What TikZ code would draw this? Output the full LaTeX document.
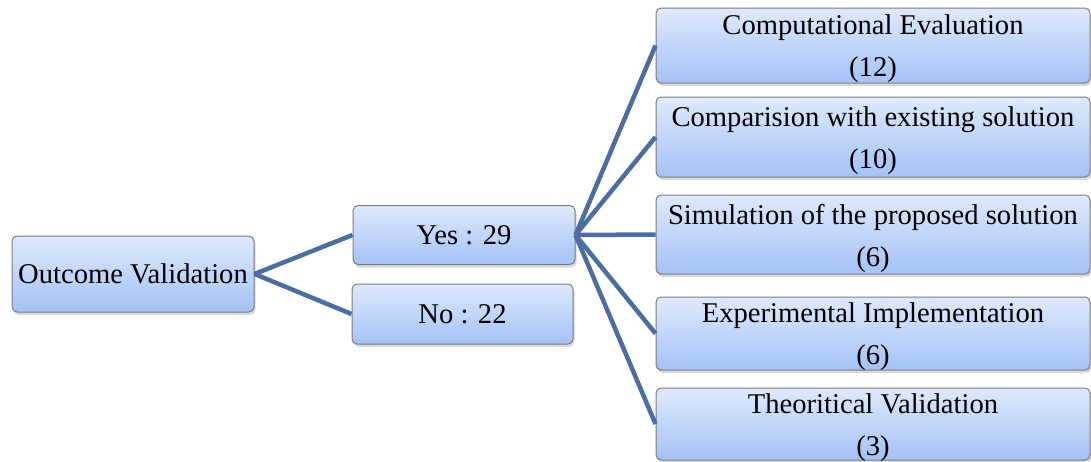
\documentclass[tikz,border=0pt]{standalone}
\usepackage{fontspec}
\setmainfont{Liberation Serif}
\usepackage{xcolor}
\usepackage{tikz}
\usetikzlibrary{positioning, shadows}
\definecolor{boxtop}{RGB}{222,233,252}
\definecolor{boxbot}{RGB}{164,194,246}
\definecolor{boxline}{RGB}{125,125,125}
\definecolor{linkblue}{RGB}{74,110,162}
\newcommand{\lowline}[1]{\raisebox{-3.5pt}[\height][\depth]{#1}}

\begin{document}
\begin{tikzpicture}[
  x=1pt, y=-1pt,
  box/.style={rectangle, draw=boxline, line width=1pt, rounded corners=5pt,
              top color=boxtop, bottom color=boxbot, align=center,
              inner sep=0pt, font=\fontsize{28.6pt}{42pt}\selectfont,
              drop shadow={opacity=0.3, shadow xshift=1.5pt, shadow yshift=-3pt}},
  leafbox/.style={box, minimum width=434pt},
  link/.style={draw=linkblue, line width=4.5pt}
]
  \useasboundingbox (0,0) rectangle (1091,461);

  % root and first level
  \node[box, minimum width=242pt, minimum height=76pt] (outcome) at (133,274) {Outcome Validation};
  \node[box, minimum width=222pt, minimum height=59pt] (yes) at (464,235) {Yes : 29};
  \node[box, minimum width=221pt, minimum height=60pt] (no) at (462.5,314) {No : 22};

  % second level
  \node[leafbox, minimum height=75pt] (compeval) at (873,45.5)
    {\lowline{Computational Evaluation}\\\lowline{(12)}};
  \node[leafbox, minimum height=80pt] (compare) at (873,137)
    {\lowline{Comparision with existing solution}\\\lowline{(10)}};
  \node[leafbox, minimum height=79pt] (simul) at (873,234.5)
    {\lowline{Simulation of the proposed solution}\\\lowline{(6)}};
  \node[leafbox, minimum height=73pt] (experim) at (873,333.5)
    {\lowline{Experimental Implementation}\\\lowline{(6)}};
  \node[leafbox, minimum height=72pt] (theory) at (873,424)
    {\lowline{Theoritical Validation}\\\lowline{(3)}};

  % links
  \draw[link] (outcome.east) -- (yes.west);
  \draw[link] (outcome.east) -- (no.west);
  \foreach \leaf in {compeval, compare, simul, experim, theory}
    \draw[link] (yes.east) -- (\leaf.west);

\end{tikzpicture}
\end{document}
